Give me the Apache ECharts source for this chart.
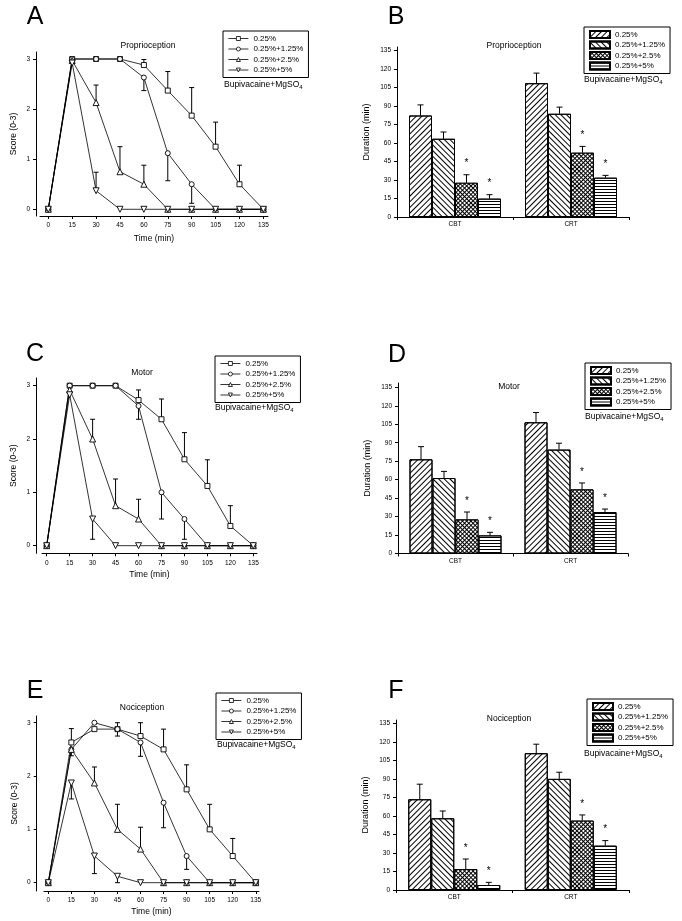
<!DOCTYPE html>
<html>
<head>
<meta charset="utf-8">
<script src="https://cdn.jsdelivr.net/npm/echarts@6/dist/echarts.min.js"></script>
<style>
  html, body { margin: 0; padding: 0; background: #fff; }
  #chart { width: 682px; height: 921px; }
</style>
</head>
<body>
<div id="chart"></div>
<script>
const FONT = 'Arial, "Liberation Sans", sans-serif';

// 时间点 (min) 与分组
const timePoints = [0, 15, 30, 45, 60, 75, 90, 105, 120, 135];
const doseNames = ['0.25%', '0.25%+1.25%', '0.25%+2.5%', '0.25%+5%'];
const blockNames = ['CBT', 'CRT'];

// A: Proprioception score，每行一个剂量组；误差线终点（null = 无）
const propScore = [
  [0, 3, 3, 3, 2.88, 2.37, 1.87, 1.25, 0.5, 0],
  [0, 3, 3, 3, 2.63, 1.12, 0.5, 0, 0, 0],
  [0, 2.97, 2.13, 0.75, 0.5, 0, 0, 0, 0, 0],
  [0, 2.92, 0.37, 0, 0, 0, 0, 0, 0, 0],
];
const propScoreErr = [
  [null, null, null, null, 2.99, 2.75, 2.43, 1.74, 0.88, null],
  [null, null, null, null, 2.37, 0.57, 0.12, null, null, null],
  [null, null, 2.48, 1.25, 0.88, null, null, null, null, null],
  [null, null, 0.74, null, null, null, null, null, null, null],
];

// C: Motor score
const motorScore = [
  [0, 3, 3, 3, 2.73, 2.37, 1.62, 1.12, 0.37, 0],
  [0, 3, 3, 3, 2.62, 1.0, 0.5, 0, 0, 0],
  [0, 2.92, 2.0, 0.75, 0.5, 0, 0, 0, 0, 0],
  [0, 2.83, 0.5, 0, 0, 0, 0, 0, 0, 0],
];
const motorScoreErr = [
  [null, null, null, null, 2.92, 2.75, 2.12, 1.61, 0.75, null],
  [null, null, null, null, 2.37, 0.5, 0.12, null, null, null],
  [null, null, 2.37, 1.25, 0.87, null, null, null, null, null],
  [null, null, 0.12, null, null, null, null, null, null, null],
];

// E: Nociception score
const nociScore = [
  [0, 2.63, 2.88, 2.88, 2.75, 2.5, 1.75, 1.0, 0.5, 0],
  [0, 2.5, 3.0, 2.88, 2.63, 1.5, 0.5, 0, 0, 0],
  [0, 2.5, 1.87, 1.0, 0.63, 0, 0, 0, 0, 0],
  [0, 1.87, 0.5, 0.12, 0, 0, 0, 0, 0, 0],
];
const nociScoreErr = [
  [null, 2.89, null, 3.0, 3.0, 2.88, 2.21, 1.47, 0.83, null],
  [null, 2.38, null, 2.75, 2.37, 1.03, 0.25, null, null, null],
  [null, null, 2.17, 1.47, 1.04, null, null, null, null, null],
  [null, 1.57, 0.17, 0, null, null, null, null, null, null],
];

// B/D/F: Duration (min)，每行一个剂量组 [CBT, CRT]
const propDur = [[82.4, 108.6], [63.5, 83.8], [27.8, 52.2], [14.9, 31.9]];
const propDurErr = [[91, 116.8], [69, 89.2], [34.3, 57.3], [18.1, 33.8]];
const motorDur = [[76.5, 106.6], [61.3, 84.4], [27.7, 52.1], [14.7, 33.7]];
const motorDurErr = [[86.8, 114.5], [66.7, 89.6], [33.7, 57.3], [17.2, 36.1]];
const nociDur = [[73.5, 110.8], [58.1, 90], [17, 56.2], [4.05, 35.9]];
const nociDurErr = [[85.7, 118.1], [64, 95.4], [25.1, 60.8], [6.2, 40]];
// 显著性 (*)
const durSig = [false, false, true, true];

const scoreTicks = [0, 1, 2, 3];
const durTicks = [0, 15, 30, 45, 60, 75, 90, 105, 120, 135];

// ---- 布局 ----
const lineLayout = [
  { left: 40, top: 52, width: 228, height: 164, yOffset: 4, xMin: -5.2, xMax: 137.9, yMin: -0.134, yMax: 3.14, nameGap: 18.5 },
  { left: 42, top: 378, width: 215, height: 175.3, yOffset: 6, xMin: -3.07, xMax: 137.4, yMin: -0.143, yMax: 3.144, nameGap: 16.5 },
  { left: 44, top: 716, width: 215, height: 175, yOffset: 7.3, xMin: -2.8, xMax: 137.1, yMin: -0.156, yMax: 3.126, nameGap: 16.5 },
];
const barLayout = [
  { left: 397, top: 47, width: 232, height: 170, yMax: 138 },
  { left: 398, top: 383, width: 230, height: 170.5, yMax: 138.5 },
  { left: 396, top: 720, width: 233, height: 170, yMax: 137.7 },
];
const lineSets = [[propScore, propScoreErr], [motorScore, motorScoreErr], [nociScore, nociScoreErr]];
const barSets = [[propDur, propDurErr], [motorDur, motorDurErr], [nociDur, nociDurErr]];

const lineSymbols = ['rect', 'circle', 'triangle', 'triangle'];
const lineSymbolRotate = [0, 0, 0, 180];
const BAR_W = 23;
const barFill = ['#fff', '#fff', '#000', '#fff'];
// 斜线 / 反斜线 / 网格 / 横线
const barDecals = [
  { symbol: 'rect', color: '#000', dashArrayX: [1, 0], dashArrayY: [1, 2.5], rotation: -Math.PI / 4 },
  { symbol: 'rect', color: '#000', dashArrayX: [1, 0], dashArrayY: [1, 2.5], rotation: Math.PI / 4 },
  { symbol: 'rect', color: '#fff', dashArrayX: [2, 1], dashArrayY: [2, 1], rotation: Math.PI / 4 },
  { symbol: 'rect', color: '#000', dashArrayX: [1, 0], dashArrayY: [1, 2], rotation: 0 },
];

const axisText = { fontSize: 6.5, color: '#000', fontFamily: FONT };
const blackLine = { lineStyle: { color: '#000', width: 1 } };

function seg(x1, y1, x2, y2) {
  return { type: 'line', shape: { x1, y1, x2, y2 }, style: { stroke: '#000', lineWidth: 1 } };
}

// 折线图误差线（单向，带帽）
function renderLineErr(params, api) {
  const p0 = api.coord([api.value(0), api.value(1)]);
  const p1 = api.coord([api.value(0), api.value(2)]);
  return {
    type: 'group',
    children: [seg(p0[0], p0[1], p1[0], p1[1]), seg(p1[0] - 2.5, p1[1], p1[0] + 2.5, p1[1])],
  };
}

// 柱状图误差线 + 显著性星号
function renderBarErr(params, api) {
  const base = api.coord([api.value(0), api.value(2)]);
  const x = base[0] + (api.value(1) - 1.5) * BAR_W;
  const yTop = api.coord([api.value(0), api.value(3)])[1];
  const children = [seg(x, base[1], x, yTop), seg(x - 3, yTop, x + 3, yTop)];
  if (api.value(4)) {
    children.push({
      type: 'text',
      style: { text: '*', x: x, y: yTop - 11, align: 'center', verticalAlign: 'middle', font: '10px ' + FONT, fill: '#000' },
    });
  }
  return { type: 'group', children };
}

const grid = [], xAxis = [], yAxis = [], series = [], legend = [];

lineLayout.forEach((g, i) => {
  grid.push({ left: g.left, top: g.top, width: g.width, height: g.height });
  xAxis.push({
    type: 'value', gridIndex: i, min: g.xMin, max: g.xMax,
    name: 'Time (min)', nameLocation: 'middle', nameGap: g.nameGap,
    nameTextStyle: { fontSize: 8.5, color: '#000', fontFamily: FONT },
    axisLine: { show: true, onZero: false, ...blackLine },
    axisTick: { show: true, length: 3, customValues: timePoints, ...blackLine },
    axisLabel: { ...axisText, margin: 6, customValues: timePoints },
    splitLine: { show: false },
  });
  yAxis.push({
    type: 'value', gridIndex: i, min: g.yMin, max: g.yMax, offset: g.yOffset,
    name: 'Score (0-3)', nameLocation: 'middle', nameGap: 18, nameRotate: 90,
    nameTextStyle: { fontSize: 8.5, color: '#000', fontFamily: FONT },
    axisLine: { show: true, onZero: false, ...blackLine },
    axisTick: { show: true, length: 3, customValues: scoreTicks, ...blackLine },
    axisLabel: { ...axisText, margin: 6, customValues: scoreTicks },
    splitLine: { show: false },
  });
  const [vals, errs] = lineSets[i];
  const errData = [];
  vals.forEach((row, k) => {
    row.forEach((v, j) => {
      if (errs[k][j] != null) errData.push([timePoints[j], v, errs[k][j]]);
    });
  });
  series.push({
    type: 'custom', xAxisIndex: i, yAxisIndex: i, z: 1, silent: true,
    renderItem: renderLineErr, encode: { x: 0, y: [1, 2] }, data: errData,
  });
  vals.forEach((row, k) => {
    series.push({
      type: 'line', name: 'line|' + doseNames[k], xAxisIndex: i, yAxisIndex: i, z: 2,
      data: row.map((v, j) => [timePoints[j], v]),
      symbol: lineSymbols[k], symbolRotate: lineSymbolRotate[k],
      symbolSize: k >= 2 ? 6 : 5, showAllSymbol: true,
      lineStyle: { color: '#000', width: 0.8 },
      itemStyle: { color: '#fff', borderColor: '#000', borderWidth: 0.9 },
      silent: true,
    });
  });
});

barLayout.forEach((g, b) => {
  const i = b + 3;
  grid.push({ left: g.left, top: g.top, width: g.width, height: g.height });
  xAxis.push({
    type: 'category', gridIndex: i, data: blockNames,
    axisLine: { show: true, ...blackLine },
    axisTick: { show: true, length: 3, ...blackLine },
    axisLabel: { ...axisText, margin: 4 },
    splitLine: { show: false },
  });
  yAxis.push({
    type: 'value', gridIndex: i, min: 0, max: g.yMax,
    name: 'Duration (min)', nameLocation: 'middle', nameGap: 26, nameRotate: 90,
    nameTextStyle: { fontSize: 9, color: '#000', fontFamily: FONT },
    axisLine: { show: true, ...blackLine },
    axisTick: { show: true, length: 3, customValues: durTicks, ...blackLine },
    axisLabel: { ...axisText, margin: 6, customValues: durTicks },
    splitLine: { show: false },
  });
  const [vals, errs] = barSets[b];
  vals.forEach((row, k) => {
    series.push({
      type: 'bar', name: 'bar|' + doseNames[k], xAxisIndex: i, yAxisIndex: i,
      barWidth: BAR_W, barGap: '0%', data: row, silent: true,
      itemStyle: { color: barFill[k], borderColor: '#000', borderWidth: 1, decal: barDecals[k] },
    });
  });
  const errData = [];
  vals.forEach((row, k) => {
    row.forEach((v, c) => errData.push([c, k, v, errs[k][c], durSig[k] ? 1 : 0]));
  });
  series.push({
    type: 'custom', xAxisIndex: i, yAxisIndex: i, z: 3, silent: true,
    renderItem: renderBarErr, encode: { x: 0, y: 3 }, data: errData,
  });
});

// 图例位置
const lineLegendPos = [[223, 31], [215, 356], [216, 693]];
const barLegendPos = [[584, 27], [585, 363], [587, 699]];
const legendBase = {
  orient: 'vertical', itemWidth: 20, itemGap: 1.5, padding: [3, 5],
  borderColor: '#000', borderWidth: 1, selectedMode: false,
  textStyle: { fontSize: 8, lineHeight: 9, color: '#000', fontFamily: FONT },
  formatter: (n) => n.split('|')[1],
};
lineLegendPos.forEach(([l, t]) => {
  legend.push({
    ...legendBase, left: l, top: t, itemHeight: 5,
    lineStyle: { width: 0.8, color: '#000' },
    itemStyle: { borderWidth: 0.8 },
    data: doseNames.map((n) => 'line|' + n),
  });
});
barLegendPos.forEach(([l, t]) => {
  legend.push({
    ...legendBase, left: l, top: t, icon: 'rect', itemHeight: 7,
    data: doseNames.map((n) => 'bar|' + n),
  });
});

// 文字：面板字母、标题、Bupivacaine+MgSO4
function txt(x, y, text, size, align) {
  return {
    type: 'text', silent: true,
    style: { text, x, y, font: size + 'px ' + FONT, fill: '#000', align: align || 'center', verticalAlign: 'middle' },
  };
}
function drugLabel(x, y) {
  return {
    type: 'text', silent: true,
    style: {
      x, y, text: '{n|Bupivacaine+MgSO}{s|4}', align: 'left', verticalAlign: 'middle', fill: '#000',
      rich: {
        n: { fontSize: 8.5, fontFamily: FONT, lineHeight: 10, verticalAlign: 'top' },
        s: { fontSize: 6, fontFamily: FONT, lineHeight: 4, verticalAlign: 'bottom' },
      },
    },
  };
}
const graphic = [
  txt(35, 17, 'A', 25), txt(396, 17, 'B', 25),
  txt(35, 354, 'C', 25), txt(397, 355, 'D', 25),
  txt(35, 691, 'E', 25), txt(396, 691, 'F', 25),
  txt(148, 46, 'Proprioception', 8.5), txt(514, 46, 'Proprioception', 8.5),
  txt(142, 373, 'Motor', 8.5), txt(509, 387, 'Motor', 8.5),
  txt(142, 708, 'Nociception', 8.5), txt(509, 719, 'Nociception', 8.5),
  drugLabel(224, 85), drugLabel(584, 80),
  drugLabel(215, 408), drugLabel(585, 417),
  drugLabel(217, 745), drugLabel(584, 754),
];

const chart = echarts.init(document.getElementById('chart'));
chart.setOption({
  animation: false,
  backgroundColor: '#fff',
  textStyle: { fontFamily: FONT },
  grid, xAxis, yAxis, series, legend, graphic,
});
</script>
</body>
</html>
